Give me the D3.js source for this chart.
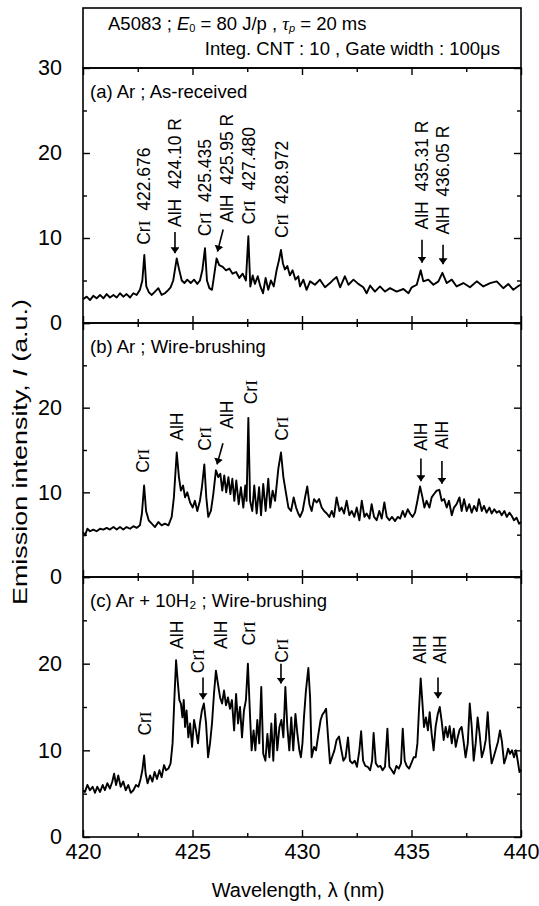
<!DOCTYPE html>
<html>
<head>
<meta charset="utf-8">
<script src="https://cdn.jsdelivr.net/npm/d3@7"></script>
<style>
  body { margin: 0; background: #fff; }
  svg text { font-family: "Liberation Sans", Arial, sans-serif; fill: #000; }
</style>
</head>
<body>
<div id="chart"></div>
<script>
'use strict'

// spectra : [wavelength (nm), emission intensity (a.u.)]
var spectrumA = [
  [420.00,2.8],[420.17,3.1],[420.32,2.7],[420.47,3.2],[420.62,2.9],[420.78,3.3],[420.93,2.9],[421.08,3.4],
  [421.23,3.0],[421.39,3.3],[421.54,3.0],[421.69,3.5],[421.84,3.1],[421.99,3.4],[422.15,3.0],[422.30,3.5],
  [422.45,3.3],[422.60,3.9],[422.71,5.0],[422.80,8.0],[422.89,4.3],[423.01,3.6],[423.14,3.3],[423.29,3.7],
  [423.44,4.1],[423.59,3.3],[423.74,3.5],[423.90,3.9],[424.00,4.2],[424.12,5.0],[424.28,7.6],[424.38,6.4],
  [424.51,5.0],[424.63,4.7],[424.76,5.1],[424.92,4.7],[425.07,5.1],[425.22,4.6],[425.34,5.0],[425.45,6.2],
  [425.57,8.8],[425.66,5.0],[425.77,4.1],[425.89,3.9],[426.00,5.8],[426.10,7.6],[426.22,6.8],[426.38,6.6],
  [426.53,6.2],[426.68,6.4],[426.83,5.8],[426.99,6.0],[427.14,5.3],[427.29,5.8],[427.44,5.0],[427.55,10.2],
  [427.64,4.3],[427.75,5.6],[427.85,4.6],[427.98,5.5],[428.10,4.3],[428.22,3.5],[428.34,5.3],[428.46,3.9],
  [428.58,5.0],[428.71,4.3],[428.84,6.2],[428.95,7.4],[429.04,8.6],[429.13,7.0],[429.22,6.3],[429.33,6.7],
  [429.45,5.6],[429.57,6.2],[429.70,5.1],[429.83,5.5],[429.91,4.3],[430.06,5.1],[430.21,3.9],[430.37,4.9],
  [430.59,4.5],[430.82,5.1],[431.05,4.2],[431.28,4.7],[431.43,5.1],[431.58,5.4],[431.74,4.2],[431.96,5.5],
  [432.12,4.5],[432.35,5.1],[432.57,4.6],[432.80,4.2],[432.95,3.5],[433.11,4.4],[433.33,3.7],[433.56,4.3],
  [433.79,3.7],[434.02,4.1],[434.32,3.7],[434.63,4.0],[434.86,3.5],[435.01,4.2],[435.24,4.5],[435.42,6.2],
  [435.54,4.9],[435.77,5.1],[436.00,4.5],[436.23,4.9],[436.41,5.9],[436.61,4.7],[436.84,5.1],[437.06,4.3],
  [437.37,4.7],[437.67,4.2],[437.98,4.9],[438.28,4.3],[438.59,4.7],[438.89,4.9],[439.19,4.1],[439.42,4.6],
  [439.65,3.9],[439.91,4.4],[440.00,4.5]
];

var spectrumB = [
  [420.00,5.3],[420.09,4.9],[420.20,5.7],[420.32,5.4],[420.47,5.6],[420.62,5.4],[420.78,5.7],[420.93,5.6],
  [421.08,5.8],[421.23,5.6],[421.39,5.9],[421.54,5.6],[421.69,5.9],[421.84,5.6],[421.99,5.9],[422.15,5.7],
  [422.30,6.0],[422.45,5.8],[422.60,6.1],[422.69,7.5],[422.79,10.8],[422.88,7.8],[423.00,6.7],[423.14,6.3],
  [423.29,5.9],[423.44,6.5],[423.59,6.1],[423.74,6.3],[423.90,6.1],[424.05,7.1],[424.15,9.4],[424.28,14.7],
  [424.38,11.8],[424.47,10.2],[424.57,10.8],[424.66,9.4],[424.76,10.0],[424.89,8.8],[425.01,8.2],[425.11,9.0],
  [425.22,7.8],[425.34,9.0],[425.43,10.6],[425.54,13.3],[425.63,9.4],[425.72,7.1],[425.84,7.8],[425.95,9.8],
  [426.07,12.6],[426.18,11.8],[426.27,12.2],[426.36,10.2],[426.45,12.0],[426.54,10.0],[426.64,11.8],[426.73,9.8],
  [426.82,11.6],[426.91,9.0],[427.00,11.4],[427.11,8.6],[427.21,10.6],[427.32,8.2],[427.41,10.8],[427.47,9.0],
  [427.55,18.8],[427.63,9.0],[427.73,7.8],[427.82,10.8],[427.93,7.5],[428.04,10.6],[428.13,7.3],[428.23,11.0],
  [428.34,7.8],[428.46,11.6],[428.55,8.2],[428.66,10.2],[428.77,9.0],[428.92,12.8],[429.04,14.7],[429.15,11.8],
  [429.25,10.2],[429.38,8.2],[429.50,7.8],[429.62,9.4],[429.73,8.2],[429.83,7.5],[429.91,7.1],[430.03,7.8],
  [430.14,9.4],[430.24,10.7],[430.34,8.6],[430.44,7.8],[430.55,9.2],[430.67,8.8],[430.78,9.2],[430.90,8.2],
  [431.01,7.8],[431.13,7.5],[431.25,7.1],[431.36,7.8],[431.46,7.1],[431.58,9.4],[431.71,7.8],[431.81,8.2],
  [431.92,7.5],[432.04,9.0],[432.16,7.3],[432.27,7.8],[432.39,7.1],[432.50,8.2],[432.62,6.7],[432.73,9.0],
  [432.85,7.1],[432.95,7.5],[433.08,6.9],[433.18,8.6],[433.29,7.1],[433.41,6.7],[433.53,7.8],[433.64,6.9],
  [433.76,8.8],[433.87,7.1],[433.99,6.7],[434.11,7.1],[434.25,6.6],[434.37,7.1],[434.48,6.9],[434.60,7.8],
  [434.70,7.1],[434.83,8.0],[434.93,7.5],[435.05,7.1],[435.16,7.6],[435.27,9.0],[435.39,10.7],[435.50,9.4],
  [435.59,8.2],[435.69,9.0],[435.82,8.2],[435.92,9.4],[436.03,9.8],[436.15,10.2],[436.27,10.3],[436.38,9.0],
  [436.49,9.2],[436.61,8.2],[436.71,9.0],[436.84,7.3],[436.94,8.2],[437.06,8.6],[437.19,9.4],[437.29,7.8],
  [437.40,9.2],[437.52,7.8],[437.64,8.6],[437.75,7.6],[437.86,8.4],[437.98,7.8],[438.08,9.2],[438.21,7.8],
  [438.31,8.4],[438.43,7.6],[438.56,8.2],[438.66,7.5],[438.78,8.0],[438.89,7.6],[439.01,7.8],[439.12,7.3],
  [439.24,7.8],[439.35,7.1],[439.47,7.6],[439.58,7.2],[439.68,6.7],[439.80,7.0],[439.91,6.3],[440.00,6.5]
];

var spectrumC = [
  [420.00,5.4],[420.09,5.2],[420.20,6.0],[420.32,5.4],[420.44,5.8],[420.55,5.1],[420.65,5.8],[420.78,5.2],
  [420.90,6.0],[421.00,5.4],[421.11,6.2],[421.23,5.6],[421.34,6.4],[421.42,7.3],[421.51,6.0],[421.61,7.1],
  [421.72,5.8],[421.84,6.4],[421.95,5.4],[422.07,6.0],[422.18,5.1],[422.30,5.4],[422.42,6.0],[422.53,5.8],
  [422.63,6.7],[422.71,7.7],[422.79,9.4],[422.86,7.3],[422.95,6.2],[423.06,7.1],[423.17,6.4],[423.27,7.5],
  [423.38,6.7],[423.49,7.7],[423.59,6.9],[423.70,8.3],[423.79,7.7],[423.90,7.9],[424.00,8.5],[424.09,10.8],
  [424.17,15.8],[424.25,20.4],[424.32,18.1],[424.40,15.8],[424.47,15.4],[424.54,13.8],[424.60,15.8],[424.66,12.7],
  [424.73,14.6],[424.81,11.5],[424.89,13.1],[424.98,10.4],[425.07,13.5],[425.16,12.3],[425.25,10.8],[425.34,13.1],
  [425.43,14.6],[425.52,15.4],[425.62,13.1],[425.71,9.2],[425.80,10.8],[425.89,13.1],[425.98,16.5],[426.07,19.2],
  [426.16,17.7],[426.26,16.1],[426.35,15.4],[426.44,16.9],[426.53,15.2],[426.62,16.1],[426.71,14.8],[426.80,15.8],
  [426.90,12.3],[426.99,16.5],[427.08,13.1],[427.17,15.0],[427.26,11.5],[427.35,14.6],[427.44,15.8],[427.53,20.0],
  [427.63,13.8],[427.70,10.0],[427.79,12.3],[427.87,10.0],[427.96,13.5],[428.05,10.8],[428.14,17.3],[428.23,9.6],
  [428.33,8.8],[428.42,11.9],[428.51,9.2],[428.60,13.1],[428.69,8.8],[428.78,14.2],[428.87,10.0],[428.97,12.7],
  [429.06,13.5],[429.15,11.5],[429.24,17.3],[429.33,12.7],[429.42,10.0],[429.51,13.8],[429.60,10.0],[429.70,14.2],
  [429.79,11.9],[429.88,10.0],[429.95,9.2],[430.02,10.8],[430.09,13.8],[430.18,16.9],[430.29,19.5],[430.37,16.1],
  [430.44,9.2],[430.55,10.4],[430.64,10.0],[430.75,11.9],[430.85,13.5],[430.93,14.1],[431.01,14.4],[431.10,14.8],
  [431.19,11.5],[431.28,8.5],[431.37,9.2],[431.48,10.0],[431.58,11.2],[431.69,11.6],[431.80,10.0],[431.89,8.8],
  [431.99,9.2],[432.10,11.5],[432.19,8.8],[432.30,8.5],[432.41,8.8],[432.51,8.1],[432.62,10.0],[432.70,12.2],
  [432.79,8.8],[432.89,8.2],[433.00,8.1],[433.11,7.7],[433.20,8.8],[433.27,12.0],[433.37,8.5],[433.47,8.1],
  [433.58,8.2],[433.68,7.7],[433.79,8.1],[433.90,12.5],[433.99,8.1],[434.10,7.7],[434.20,7.3],[434.31,8.2],
  [434.42,7.9],[434.52,8.5],[434.60,12.5],[434.69,8.8],[434.78,8.2],[434.89,7.9],[434.99,8.5],[435.10,9.2],
  [435.19,9.2],[435.27,10.8],[435.34,14.6],[435.42,18.3],[435.50,15.4],[435.57,12.7],[435.66,13.8],[435.75,12.3],
  [435.83,14.4],[435.92,11.9],[436.01,10.0],[436.10,12.7],[436.20,14.2],[436.29,15.0],[436.38,13.3],[436.47,11.2],
  [436.56,12.7],[436.65,11.5],[436.74,12.8],[436.84,10.8],[436.93,12.5],[437.02,10.4],[437.11,11.5],[437.20,12.4],
  [437.29,12.7],[437.38,11.0],[437.47,9.2],[437.57,10.8],[437.66,15.4],[437.75,12.7],[437.84,8.8],[437.93,10.8],
  [438.02,13.8],[438.11,11.9],[438.21,9.2],[438.30,10.0],[438.39,11.2],[438.48,14.4],[438.57,10.8],[438.66,8.5],
  [438.75,9.2],[438.84,10.0],[438.95,11.0],[439.04,12.3],[439.13,11.0],[439.23,8.5],[439.32,9.2],[439.41,10.2],
  [439.50,9.6],[439.59,10.0],[439.68,9.2],[439.77,10.0],[439.85,8.8],[439.93,7.5],[440.00,7.8]
];

var panelTitles = ["(a) Ar ; As-received", "(b) Ar ; Wire-brushing", "(c) Ar + 10H\u2082 ; Wire-brushing"];
var headerLine1 = "A5083 ; ";
var headerLine2 = "Integ. CNT : 10 , Gate width : 100\u03bcs";
var xTicks = [420, 425, 430, 435, 440];
var xMinorTicks = [422.5, 427.5, 432.5, 437.5];
var yTicks = [0, 10, 20, 30];
var yMinorTicks = [5, 15, 25];

// line labels : species, suffix, wavelength, label foot (a.u.), arrow [x1, y1, x2, y2] in data units
var labelsA = [
  { sp: "Cr", text: "422.676",  x: 422.79, y: 9.2 },
  { sp: "AlH", text: "424.10 R", x: 424.20, y: 11.3, arrow: [424.20, 10.7, 424.20, 8.2] },
  { sp: "Cr", text: "425.435",  x: 425.57, y: 10.2 },
  { sp: "AlH", text: "425.95 R", x: 426.58, y: 11.8, arrow: [426.40, 11.0, 426.14, 8.4] },
  { sp: "Cr", text: "427.480",  x: 427.58, y: 11.6 },
  { sp: "Cr", text: "428.972",  x: 429.09, y: 10.0 },
  { sp: "AlH", text: "435.31 R", x: 435.48, y: 11.0, arrow: [435.48, 9.8, 435.48, 7.1] },
  { sp: "AlH", text: "436.05 R", x: 436.44, y: 10.4, arrow: [436.44, 9.2, 436.44, 6.9] }
];
var labelsB = [
  { sp: "Cr", x: 422.74, y: 12.3 },
  { sp: "AlH", x: 424.29, y: 16.1 },
  { sp: "Cr", x: 425.57, y: 14.9 },
  { sp: "AlH", x: 426.58, y: 17.5, arrow: [426.39, 15.8, 426.12, 13.3] },
  { sp: "Cr", x: 427.67, y: 20.4 },
  { sp: "Cr", x: 429.09, y: 16.1 },
  { sp: "AlH", x: 435.43, y: 14.9, arrow: [435.43, 14.0, 435.43, 11.3] },
  { sp: "AlH", x: 436.39, y: 15.1, arrow: [436.39, 13.7, 436.39, 11.0] }
];
var labelsC = [
  { sp: "Cr", x: 422.83, y: 11.7 },
  { sp: "AlH", x: 424.29, y: 21.7 },
  { sp: "Cr", x: 425.25, y: 18.9, arrow: [425.48, 18.4, 425.48, 15.9] },
  { sp: "AlH", x: 426.30, y: 21.7 },
  { sp: "Cr", x: 427.58, y: 22.1 },
  { sp: "Cr", x: 429.09, y: 20.1, arrow: [429.04, 20.0, 429.04, 17.7] },
  { sp: "AlH", x: 435.39, y: 20.0 },
  { sp: "AlH", x: 436.30, y: 20.0, arrow: [436.21, 18.4, 436.21, 16.0] }
];

var chart = (function(){
  var self = {},
  _svg,
  _x,
  width = 539, height = 906,
  left = 83, right = 521,
  headerTop = 8,
  panelEdges = [[68, 323], [323, 577], [577, 837]],

  //creates the svg and the arrow marker
  addSVG = function(placeHolder){
    _svg = d3.select(placeHolder).append("svg")
      .attr("width", width)
      .attr("height", height);

    _svg.append("defs").append("marker")
      .attr("id", "arrowHead")
      .attr("viewBox", "0 0 10 10")
      .attr("refX", 10).attr("refY", 5)
      .attr("markerUnits", "userSpaceOnUse")
      .attr("markerWidth", 6).attr("markerHeight", 9)
      .attr("orient", "auto")
      .attr("preserveAspectRatio", "none")
      .append("path")
      .attr("d", "M0,0 L10,5 L0,10 z")
      .attr("fill", "#000");

    _x = d3.scaleLinear().domain([420, 440]).range([left, right]);
  },

  //header box with the experimental conditions
  addHeader = function(){
    _svg.append("rect")
      .attr("x", left).attr("y", headerTop)
      .attr("width", right - left).attr("height", panelEdges[0][0] - headerTop)
      .attr("fill", "none").attr("stroke", "#000").attr("stroke-width", 1.6);

    var t1 = _svg.append("text").attr("x", 108).attr("y", 30).attr("font-size", "18.5px");
    t1.append("tspan").text(headerLine1);
    t1.append("tspan").attr("font-style", "italic").text("E");
    t1.append("tspan").attr("font-size", "11px").attr("dy", 2).text("0");
    t1.append("tspan").attr("dy", -2).text(" = 80 J/p , ");
    t1.append("tspan").attr("font-style", "italic").attr("font-family", "Liberation Serif").text("\u03c4");
    t1.append("tspan").attr("font-size", "11px").attr("font-style", "italic").attr("dy", 2).text("p");
    t1.append("tspan").attr("dy", -2).text(" = 20 ms");

    _svg.append("text")
      .attr("x", 500).attr("y", 55)
      .attr("text-anchor", "end")
      .attr("font-size", "18.5px")
      .text(headerLine2);
  },

  //draws frame, ticks and tick labels of one panel
  addAxes = function(y, i){
    var top = panelEdges[i][0], bottom = panelEdges[i][1];
    var clean = function(g){ g.select(".domain").remove(); };
    var yFormat = function(d){ return (i > 0 && d === 30) ? "" : d; };

    var axes = [
      [d3.axisLeft(y).tickValues(yTicks).tickSize(-7).tickPadding(21).tickFormat(yFormat), left, 0],
      [d3.axisLeft(y).tickValues(yMinorTicks).tickSize(-4).tickFormat(""), left, 0],
      [d3.axisRight(y).tickValues(yTicks).tickSize(-7).tickFormat(""), right, 0],
      [d3.axisRight(y).tickValues(yMinorTicks).tickSize(-4).tickFormat(""), right, 0],
      [d3.axisTop(_x).tickValues(xTicks).tickSize(-7).tickFormat(""), 0, top],
      [d3.axisTop(_x).tickValues(xMinorTicks).tickSize(-4).tickFormat(""), 0, top],
      [d3.axisBottom(_x).tickValues(xTicks).tickSize(-7).tickPadding(7)
        .tickFormat(i === 2 ? d3.format("d") : ""), 0, bottom],
      [d3.axisBottom(_x).tickValues(xMinorTicks).tickSize(-4).tickFormat(""), 0, bottom]
    ];

    axes.forEach(function(a){
      var g = _svg.append("g")
        .attr("transform", "translate(" + a[1] + "," + a[2] + ")")
        .call(a[0])
        .call(clean);
      g.selectAll("line").attr("stroke", "#000").attr("stroke-width", 1.4);
      g.selectAll("text")
        .attr("font-size", "21.5px")
        .attr("font-family", "Liberation Sans, Arial, sans-serif")
        .attr("fill", "#000");
    });

    _svg.append("rect")
      .attr("x", left).attr("y", top)
      .attr("width", right - left).attr("height", bottom - top)
      .attr("fill", "none").attr("stroke", "#000").attr("stroke-width", 1.6);
  },

  //line labels written bottom to top, with optional arrows
  addLabels = function(labels, y){
    var g = _svg.append("g");
    labels.forEach(function(l){
      var t = g.append("text")
        .attr("transform", "translate(" + _x(l.x) + "," + y(l.y) + ") rotate(-90)")
        .attr("dy", "0.36em")
        .attr("font-size", "17.5px");
      if (l.sp === "Cr") {
        t.append("tspan").text("Cr");
        t.append("tspan").attr("font-family", "Liberation Serif").text("I");
      } else {
        t.append("tspan").text(l.sp);
      }
      if (l.text) t.append("tspan").text("\u00a0\u00a0" + l.text);

      if (l.arrow) {
        g.append("line")
          .attr("x1", _x(l.arrow[0])).attr("y1", y(l.arrow[1]))
          .attr("x2", _x(l.arrow[2])).attr("y2", y(l.arrow[3]))
          .attr("stroke", "#000").attr("stroke-width", 1.6)
          .attr("marker-end", "url(#arrowHead)");
      }
    });
  };

  self.init = function(placeHolder){
    addSVG(placeHolder);
    addHeader();
  };

  //adds one spectrum panel
  self.addPanel = function(i, data, title, labels){
    var y = d3.scaleLinear().domain([0, 30])
      .range([panelEdges[i][1], panelEdges[i][0]]);

    addAxes(y, i);

    _svg.append("text")
      .attr("x", 90).attr("y", panelEdges[i][0] + 30)
      .attr("font-size", "18.5px")
      .text(title);

    var line = d3.line()
      .x(function(d){ return _x(d[0]); })
      .y(function(d){ return y(d[1]); });

    _svg.append("path")
      .datum(data)
      .attr("d", line)
      .attr("fill", "none")
      .attr("stroke", "#000")
      .attr("stroke-width", 1.9)
      .attr("stroke-linejoin", "round");

    addLabels(labels, y);
  };

  self.addTitles = function(){
    _svg.append("text")
      .attr("x", (left + right) / 2 - 4).attr("y", 897)
      .attr("text-anchor", "middle")
      .attr("font-size", "20px")
      .text("Wavelength, \u03bb (nm)");

    var t = _svg.append("text")
      .attr("transform", "translate(20,452) rotate(-90)")
      .attr("text-anchor", "middle")
      .attr("dy", "0.36em")
      .attr("font-size", "20px")
      .attr("textLength", 306)
      .attr("lengthAdjust", "spacingAndGlyphs");
    t.append("tspan").text("Emission intensity, ");
    t.append("tspan").attr("font-style", "italic").text("I");
    t.append("tspan").text(" (a.u.)");
  };

  return self;
}());

chart.init("#chart");
chart.addPanel(0, spectrumA, panelTitles[0], labelsA);
chart.addPanel(1, spectrumB, panelTitles[1], labelsB);
chart.addPanel(2, spectrumC, panelTitles[2], labelsC);
chart.addTitles();
</script>
</body>
</html>
